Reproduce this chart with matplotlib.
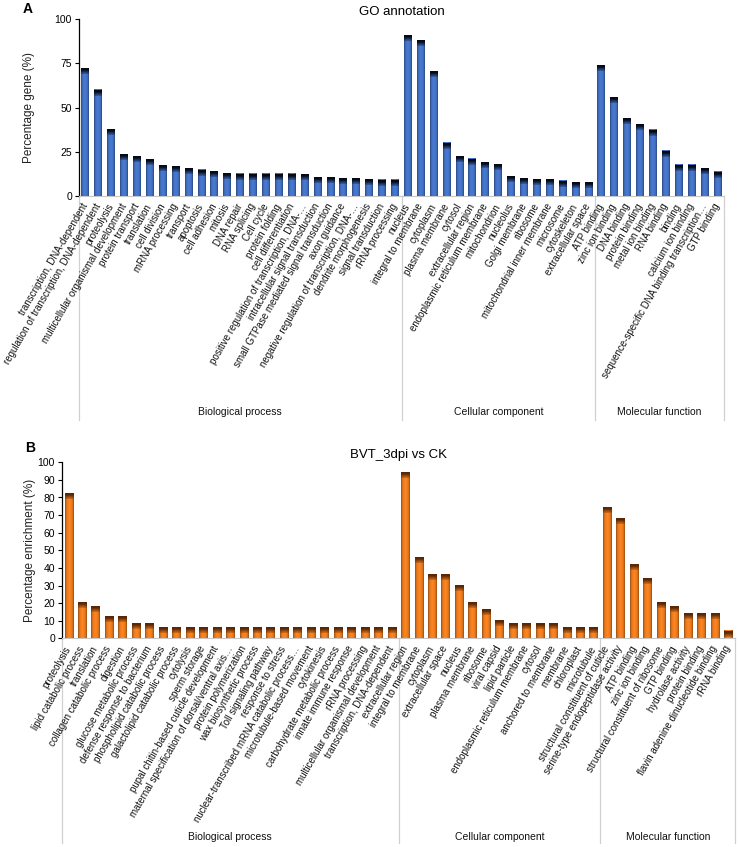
import matplotlib
matplotlib.use("Agg")
import matplotlib.pyplot as plt
import matplotlib.transforms as mtransforms
import numpy as np

plt.rcParams['font.family'] = ['Liberation Sans', 'DejaVu Sans']

# ---- Panel A: GO annotation ----
a_bp_labels = ["transcription, DNA-dependent", "regulation of transcription, DNA-dependent",
               "proteolysis", "multicellular organismal development", "protein transport",
               "translation", "cell division", "mRNA processing", "transport", "apoptosis",
               "cell adhesion", "mitosis", "DNA repair", "RNA splicing", "Cell cycle",
               "protein folding", "cell differentiation",
               "positive regulation of transcription, DNA-…",
               "intracellular signal transduction", "small GTPase mediated signal transduction",
               "axon guidance", "negative regulation of transcription, DNA-…",
               "dendrite morphogenesis", "signal transduction", "rRNA processing"]
a_bp_vals = [72, 60, 37.5, 23.5, 22.5, 20.5, 17.5, 16.8, 15.5, 14.8, 13.7, 13, 12.5, 12.5,
             12.5, 12.5, 12.5, 12, 10.6, 10.6, 9.8, 9.8, 9.2, 9.1, 9.1]
a_cc_labels = ["nucleus", "integral to membrane", "cytoplasm", "plasma membrane", "cytosol",
               "extracellular region", "endoplasmic reticulum membrane", "mitochondrion",
               "nucleolus", "Golgi membrane", "ribosome", "mitochondrial inner membrane",
               "microsome", "cytoskeleton", "extracellular space"]
a_cc_vals = [90.7, 88.2, 70.5, 30, 22.5, 21, 19.2, 18, 11.2, 9.8, 9.3, 9.3, 8.5, 7.9, 7.9]
a_mf_labels = ["ATP binding", "zinc ion binding", "DNA binding", "protein binding",
               "metal ion binding", "RNA binding", "binding", "calcium ion binding",
               "sequence-specific DNA binding transcription…", "GTP binding"]
a_mf_vals = [74, 55.7, 43.8, 40.6, 37.4, 25.5, 17.6, 17.6, 15.5, 13.6]

# ---- Panel B: BVT_3dpi vs CK ----
b_bp_labels = ["proteolysis", "lipid catabolic process", "translation",
               "collagen catabolic process", "digestion", "glucose metabolic process",
               "defense response to bacterium", "phospholipid catabolic process",
               "galactolipid catabolic process", "cytolysis", "sperm storage",
               "pupal chitin-based cuticle development",
               "maternal specification of dorsal/ventral axis…", "protein polymerization",
               "wax biosynthetic process", "Toll signaling pathway", "response to stress",
               "nuclear-transcribed mRNA catabolic process…", "microtubule-based movement",
               "cytokinesis", "carbohydrate metabolic process", "innate immune response",
               "rRNA processing", "multicellular organismal development",
               "transcription, DNA-dependent"]
b_bp_vals = [82, 20, 18, 12, 12, 8, 8, 6, 6, 6, 6, 6, 6, 6, 6, 6, 6, 6, 6, 6, 6, 6, 6, 6, 6]
b_cc_labels = ["extracellular region", "integral to membrane", "cytoplasm",
               "extracellular space", "nucleus", "plasma membrane", "ribosome",
               "viral capsid", "lipid particle", "endoplasmic reticulum membrane", "cytosol",
               "anchored to membrane", "membrane", "chloroplast", "microtubule"]
b_cc_vals = [94, 46, 36, 36, 30, 20, 16, 10, 8, 8, 8, 8, 6, 6, 6]
b_mf_labels = ["structural constituent of cuticle", "serine-type endopeptidase activity",
               "ATP binding", "zinc ion binding", "structural constituent of ribosome",
               "GTP binding", "hydrolase activity", "protein binding",
               "flavin adenine dinucleotide binding", "rRNA binding"]
b_mf_vals = [74, 68, 42, 34, 20, 18, 14, 14, 14, 4]

group_names = ["Biological process", "Cellular component", "Molecular function"]


def shaded_bars(ax, x, vals, base, dark, cap):
    bars = ax.bar(x, vals, width=0.62, color=base, edgecolor='none', zorder=2)
    base = np.array(matplotlib.colors.to_rgb(base))
    dark = np.array(matplotlib.colors.to_rgb(dark))
    t = np.linspace(0, 1, 24)
    prof = np.sin(np.pi * t) ** 0.5
    body = np.zeros((1, 24, 4))
    body[0, :, :3] = np.clip(base * (0.6 + 0.48 * prof)[:, None], 0, 1)
    body[0, :, 3] = 1
    s = np.linspace(0, 1, 16)
    capimg = np.zeros((16, 1, 4))
    capimg[:, 0, :3] = dark
    capimg[:, 0, 3] = np.clip(1.3 - s, 0, 1) ** 1.2
    for b in bars:
        x0, w, h = b.get_x(), b.get_width(), b.get_height()
        ax.imshow(body, extent=[x0, x0 + w, 0, h], aspect='auto',
                  interpolation='bilinear', zorder=3)
        ax.imshow(capimg, extent=[x0, x0 + w, h - min(cap, h), h], aspect='auto',
                  interpolation='bilinear', zorder=4)


def draw_panel(ax, labels, vals, base, dark, ymax, ystep, ylabel, title,
               drop, grp_y, lab_pad, cap, ylpad):
    all_labels = labels[0] + labels[1] + labels[2]
    all_vals = vals[0] + vals[1] + vals[2]
    x = np.arange(len(all_vals))
    shaded_bars(ax, x, all_vals, base, dark, cap)
    ax.set_xlim(-0.5, len(all_vals) - 0.5)
    ax.set_ylim(0, ymax)
    ax.set_yticks(np.arange(0, ymax + 1, ystep))
    ax.tick_params(axis='y', labelsize=7.5, length=3, width=0.8, pad=2)
    ax.set_xticks(x)
    ax.set_xticklabels(all_labels, rotation=60, ha='right', va='center',
                       rotation_mode='anchor', fontsize=7, color='#111111')
    ax.tick_params(axis='x', length=0, pad=lab_pad)
    for s in ['top', 'right']:
        ax.spines[s].set_visible(False)
    ax.spines['bottom'].set_color('#c8c8c8')
    ax.spines['left'].set_linewidth(0.9)
    ax.set_ylabel(ylabel, fontsize=8.5, labelpad=ylpad, color='#222222')
    ax.set_title(title, fontsize=9.5, pad=3)
    # group separators extending into label area
    trans = mtransforms.blended_transform_factory(ax.transData, ax.transAxes)
    n0, n1 = len(vals[0]), len(vals[1])
    edges = [-0.5, n0 - 0.5, n0 + n1 - 0.5, len(all_vals) - 0.5]
    for e in edges:
        ax.plot([e, e], [0, drop], transform=trans, color='#d0d0d0', lw=0.9,
                clip_on=False, zorder=1)
    for i, name in enumerate(group_names):
        ax.text((edges[i] + edges[i + 1]) / 2, grp_y, name, transform=trans,
                ha='center', va='center', fontsize=7.5, color='#111111')


fig = plt.figure(figsize=(7.38, 8.47), dpi=100)

axA = fig.add_axes([79 / 738, 1 - 196 / 847, 645 / 738, 176.7 / 847])
draw_panel(axA, [a_bp_labels, a_cc_labels, a_mf_labels], [a_bp_vals, a_cc_vals, a_mf_vals],
           '#4270c2', '#050a18', 100, 25, "Percentage gene (%)", "GO annotation",
           -1.27, -1.222, 6, 3.2, 14)

axB = fig.add_axes([62 / 738, 1 - 638.3 / 847, 673 / 738, 176 / 847])
draw_panel(axB, [b_bp_labels, b_cc_labels, b_mf_labels], [b_bp_vals, b_cc_vals, b_mf_vals],
           '#ea7a1e', '#5a2806', 100, 10, "Percentage enrichment (%)", "BVT_3dpi vs CK",
           -1.165, -1.13, 6, 3.0, 1)

fig.text(28 / 738, 1 - 9 / 847, "A", fontsize=10, fontweight='bold', ha='center', va='center')
fig.text(30 / 738, 1 - 448 / 847, "B", fontsize=10, fontweight='bold', ha='center', va='center')

fig.savefig("out.png", dpi=100)
